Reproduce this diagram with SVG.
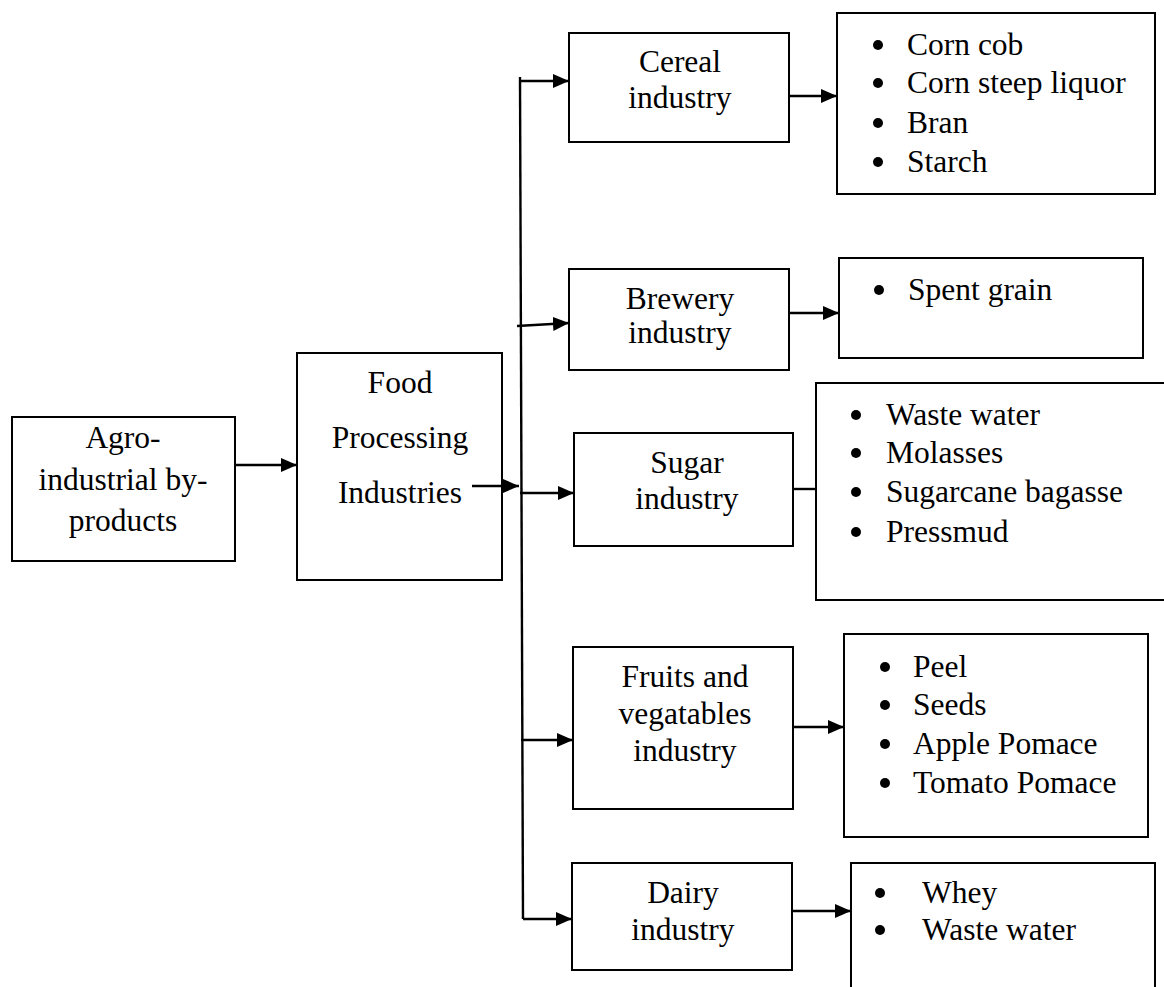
<svg xmlns="http://www.w3.org/2000/svg" width="1164" height="987" viewBox="0 0 1164 987">
<defs>
<style>
.box{fill:#fff;stroke:#000;stroke-width:2}
.t{font-family:"Liberation Serif","Times New Roman",serif;font-size:31.5px;fill:#000}
.c{text-anchor:middle}
.ln{stroke:#000;stroke-width:2.4;fill:none}
.b{fill:#000}
</style>
<marker id="ah" viewBox="0 0 16 14" refX="16" refY="7" markerWidth="16" markerHeight="14" markerUnits="userSpaceOnUse" orient="auto">
<path d="M0,0 L16,7 L0,14 z" fill="#000"/>
</marker>
</defs>
<rect width="1164" height="987" fill="#fff"/>

<g id="agro">
<rect class="box" x="12" y="417" width="223" height="144"/>
<text class="t c" x="123" y="448">Agro-</text>
<text class="t c" x="123" y="490">industrial by-</text>
<text class="t c" x="123" y="531">products</text>
</g>

<g id="food">
<rect class="box" x="297" y="353" width="205" height="227"/>
<text class="t c" x="400" y="393">Food</text>
<text class="t c" x="400" y="448">Processing</text>
<text class="t c" x="400" y="503">Industries</text>
</g>

<g id="cereal">
<rect class="box" x="569" y="33" width="220" height="109"/>
<text class="t c" x="680" y="72">Cereal</text>
<text class="t c" x="680" y="108">industry</text>
</g>

<g id="brewery">
<rect class="box" x="569" y="269" width="220" height="101"/>
<text class="t c" x="680" y="309">Brewery</text>
<text class="t c" x="680" y="343">industry</text>
</g>

<g id="sugar">
<rect class="box" x="574" y="433" width="219" height="113"/>
<text class="t c" x="687" y="473">Sugar</text>
<text class="t c" x="687" y="509">industry</text>
</g>

<g id="fruits">
<rect class="box" x="573" y="647" width="220" height="162"/>
<text class="t c" x="685" y="687">Fruits and</text>
<text class="t c" x="685" y="724">vegatables</text>
<text class="t c" x="685" y="761">industry</text>
</g>

<g id="dairy">
<rect class="box" x="572" y="863" width="220" height="107"/>
<text class="t c" x="683" y="903">Dairy</text>
<text class="t c" x="683" y="940">industry</text>
</g>

<g id="cereal-products">
<rect class="box" x="837" y="13" width="318" height="181"/>
<circle class="b" cx="878" cy="45" r="5"/>
<circle class="b" cx="878" cy="83" r="5"/>
<circle class="b" cx="878" cy="123" r="5"/>
<circle class="b" cx="878" cy="162" r="5"/>
<text class="t" x="907" y="55">Corn cob</text>
<text class="t" x="907" y="93">Corn steep liquor</text>
<text class="t" x="907" y="133">Bran</text>
<text class="t" x="907" y="172">Starch</text>
</g>

<g id="brewery-products">
<rect class="box" x="839" y="258" width="304" height="100"/>
<circle class="b" cx="879" cy="290" r="5"/>
<text class="t" x="908" y="300">Spent grain</text>
</g>

<g id="sugar-products">
<rect class="box" x="816" y="383" width="360" height="217"/>
<circle class="b" cx="856" cy="415" r="5"/>
<circle class="b" cx="856" cy="453" r="5"/>
<circle class="b" cx="856" cy="492" r="5"/>
<circle class="b" cx="856" cy="532" r="5"/>
<text class="t" x="886" y="425">Waste water</text>
<text class="t" x="886" y="463">Molasses</text>
<text class="t" x="886" y="502">Sugarcane bagasse</text>
<text class="t" x="886" y="542">Pressmud</text>
</g>

<g id="fruits-products">
<rect class="box" x="844" y="634" width="304" height="203"/>
<circle class="b" cx="885" cy="667" r="5"/>
<circle class="b" cx="885" cy="705" r="5"/>
<circle class="b" cx="885" cy="744" r="5"/>
<circle class="b" cx="885" cy="783" r="5"/>
<text class="t" x="913" y="677">Peel</text>
<text class="t" x="913" y="715">Seeds</text>
<text class="t" x="913" y="754">Apple Pomace</text>
<text class="t" x="913" y="793">Tomato Pomace</text>
</g>

<g id="dairy-products">
<rect class="box" x="851" y="863" width="304" height="140"/>
<circle class="b" cx="880" cy="893" r="5"/>
<circle class="b" cx="880" cy="930" r="5"/>
<text class="t" x="922" y="903">Whey</text>
<text class="t" x="922" y="940">Waste water</text>
</g>

<g id="connectors">
<line class="ln" x1="235" y1="465" x2="297" y2="465" marker-end="url(#ah)"/>
<line class="ln" x1="472" y1="486" x2="519" y2="486" marker-end="url(#ah)"/>
<line class="ln" x1="520" y1="77" x2="523" y2="919"/>
<line class="ln" x1="520" y1="81" x2="569" y2="81" marker-end="url(#ah)"/>
<line class="ln" x1="517" y1="326" x2="569" y2="323" marker-end="url(#ah)"/>
<line class="ln" x1="520" y1="493" x2="574" y2="493" marker-end="url(#ah)"/>
<line class="ln" x1="521" y1="740" x2="573" y2="740" marker-end="url(#ah)"/>
<line class="ln" x1="523" y1="919" x2="572" y2="919" marker-end="url(#ah)"/>
<line class="ln" x1="789" y1="96" x2="837" y2="96" marker-end="url(#ah)"/>
<line class="ln" x1="789" y1="313" x2="839" y2="313" marker-end="url(#ah)"/>
<line class="ln" x1="793" y1="489" x2="816" y2="489"/>
<line class="ln" x1="793" y1="727" x2="844" y2="727" marker-end="url(#ah)"/>
<line class="ln" x1="792" y1="911" x2="851" y2="911" marker-end="url(#ah)"/>
</g>
</svg>
